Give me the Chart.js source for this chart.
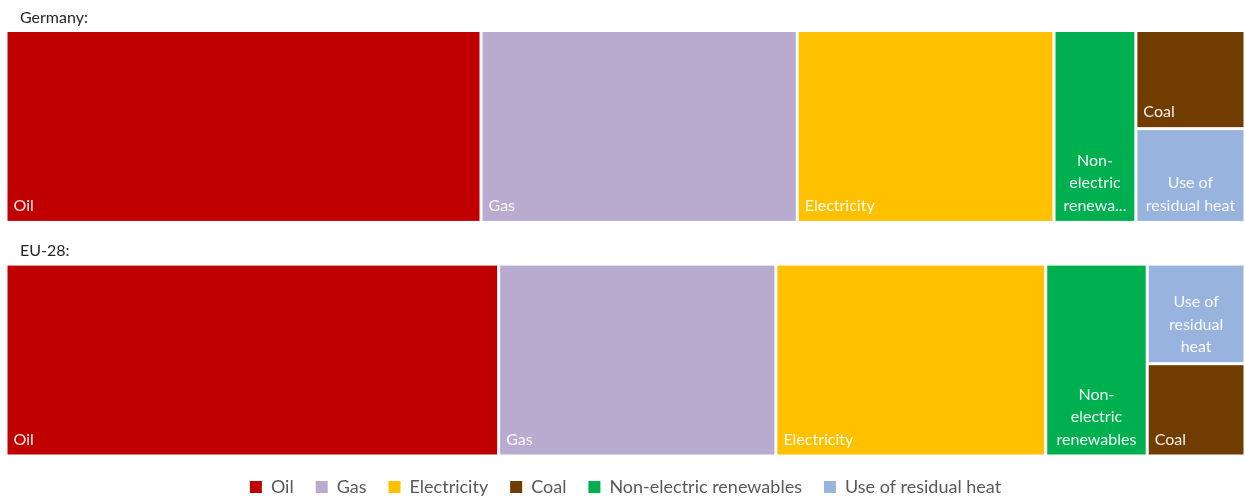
<!DOCTYPE html>
<html>
<head>
<meta charset="utf-8">
<script src="https://cdn.jsdelivr.net/npm/chart.js@4.4.1/dist/chart.umd.min.js"></script>
<style>
  html, body { margin: 0; padding: 0; background: #fff; }
  #wrap { width: 1245px; height: 496px; }
</style>
</head>
<body>
<div id="wrap"><canvas id="treemap"></canvas></div>
<script>
// shares of final energy consumption (%)
const categories = ["Oil", "Gas", "Electricity", "Coal", "Non-electric renewables", "Use of residual heat"];
const regions = ["Germany:", "EU-28:"];
const germanyShares = [38.3, 25.5, 20.7, 4.5, 6.6, 4.3];
const euShares = [39.8, 22.4, 21.8, 3.8, 8.2, 4.1];
const colors = ["#C00000", "#B9AACF", "#FFC000", "#713C00", "#00B050", "#97B3DE"];

// vertical band of each panel, in y-scale units (0 = top, 100 = bottom)
const bands = [[0, 45.1], [54.9, 100]];
const labelFont = "16px Lato";

// biggest items get a full-height column each, the two smallest share the last column
function layoutTreemap(values, y0, y1) {
  const total = values.reduce((a, b) => a + b, 0);
  const items = values.map((v, i) => ({ v, i })).sort((a, b) => b.v - a.v);
  const cols = items.slice(0, items.length - 2).map(it => [it]);
  cols.push(items.slice(items.length - 2));
  const rects = [];
  let x = 0;
  cols.forEach(col => {
    const colSum = col.reduce((a, it) => a + it.v, 0);
    const w = colSum / total * 100;
    let y = y0;
    col.forEach(it => {
      const h = it.v / colSum * (y1 - y0);
      rects.push({ i: it.i, x0: x, x1: x + w, y0: y, y1: y + h });
      y += h;
    });
    x += w;
  });
  return rects;
}

function wrapLabel(ctx, text, maxW) {
  // break after spaces and hyphens
  const tokens = text.match(/[^\s-]+-?\s*/g);
  const lines = [];
  let cur = "";
  tokens.forEach(t => {
    const test = (cur + t).trimEnd();
    if (cur && ctx.measureText(test).width > maxW) {
      lines.push(cur.trimEnd());
      cur = t;
    } else {
      cur += t;
    }
  });
  if (cur) lines.push(cur.trimEnd());
  return lines.map(l => {
    if (ctx.measureText(l).width <= maxW) return l;
    let s = l;
    while (s.length > 1 && ctx.measureText(s + "...").width > maxW) s = s.slice(0, -1);
    return s + "...";
  });
}

const treemapPlugin = {
  id: "treemap",
  afterDatasetsDraw(chart) {
    const { ctx, scales: { x, y } } = chart;
    const panels = [germanyShares, euShares];
    ctx.save();
    panels.forEach((values, p) => {
      const [b0, b1] = bands[p];
      // panel title
      ctx.fillStyle = "#262626";
      ctx.font = "16px Lato";
      ctx.textAlign = "left";
      ctx.textBaseline = "alphabetic";
      ctx.fillText(regions[p], x.getPixelForValue(0) + 14, y.getPixelForValue(b0) - 8);

      layoutTreemap(values, b0, b1).forEach(r => {
        const left = x.getPixelForValue(r.x0) + 1.5;
        const right = x.getPixelForValue(r.x1) - 1.5;
        const top = y.getPixelForValue(r.y0) + 1.5;
        const bottom = y.getPixelForValue(r.y1) - 1.5;
        ctx.fillStyle = colors[r.i];
        ctx.fillRect(left, top, right - left, bottom - top);

        ctx.fillStyle = "rgba(255,255,255,0.93)";
        ctx.font = labelFont;
        const label = categories[r.i];
        const maxW = right - left - 14;
        const lineH = 22.5;
        if (ctx.measureText(label).width <= maxW) {
          ctx.textAlign = "left";
          ctx.fillText(label, left + 6, bottom - 10);
        } else {
          ctx.textAlign = "center";
          const lines = wrapLabel(ctx, label, maxW);
          const cx = (left + right) / 2;
          lines.forEach((l, k) => {
            ctx.fillText(l, cx, bottom - 10 - (lines.length - 1 - k) * lineH);
          });
        }
      });
    });
    ctx.restore();
  }
};

new Chart(document.getElementById("treemap"), {
  type: "scatter",
  data: {
    datasets: categories.map((c, i) => ({
      label: c,
      data: [],
      backgroundColor: colors[i],
      borderColor: colors[i],
      borderWidth: 0
    }))
  },
  options: {
    responsive: true,
    maintainAspectRatio: false,
    animation: false,
    layout: { padding: { top: 30.5, left: 6, right: 0, bottom: -10 } },
    scales: {
      x: { type: "linear", min: 0, max: 100, display: false },
      y: { type: "linear", min: 0, max: 100, reverse: true, display: false }
    },
    plugins: {
      tooltip: { enabled: false },
      legend: {
        position: "bottom",
        labels: {
          usePointStyle: true,
          pointStyle: "rect",
          boxWidth: 12,
          boxHeight: 12,
          padding: 22,
          color: "#595959",
          font: { family: "Lato", size: 18 }
        }
      }
    }
  },
  plugins: [treemapPlugin]
});
</script>
</body>
</html>
